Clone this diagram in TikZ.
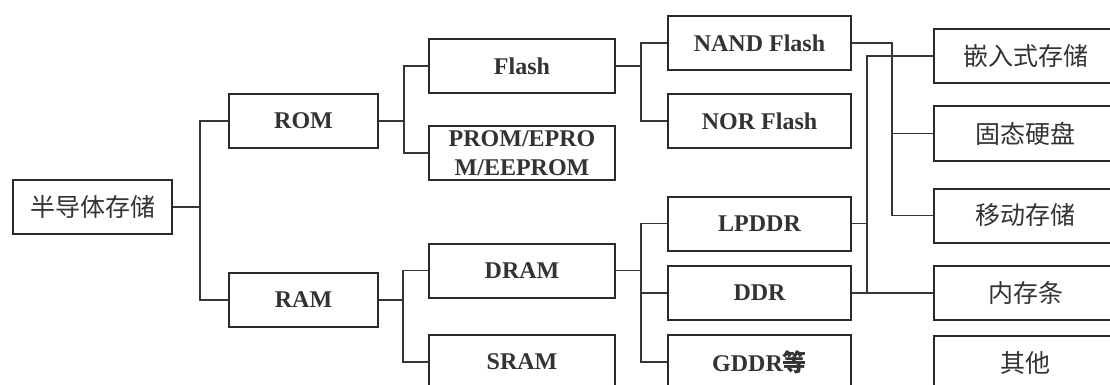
\documentclass[tikz,border=0pt]{standalone}
\usepackage{fontspec}
\setmainfont{Liberation Serif}
\newfontfamily\cjk{Noto Sans CJK SC}
\usetikzlibrary{positioning}
\definecolor{boxline}{HTML}{262B30}
\definecolor{linkline}{HTML}{353535}
\definecolor{boxtext}{HTML}{333333}

\begin{document}
\begin{tikzpicture}[x=1pt,y=-1pt,node distance=22pt,semithick]
  \tikzstyle{box}=[rectangle,draw=boxline,line width=2pt,text=boxtext,
    minimum height=54pt,inner sep=0pt,align=center,
    font=\bfseries\fontsize{24}{29}\selectfont]
  \tikzstyle{cn}=[font=\cjk\fontsize{25}{29}\selectfont]
  \tikzstyle{link}=[draw=linkline,line width=1.6pt]
  \useasboundingbox (0,0) rectangle (1110,385);

  \node[box,cn,minimum width=159pt] (root) at (92.5,207) {半导体存储};
  \node[box,minimum width=149pt] (rom) at (303.5,121) {ROM};
  \node[box,minimum width=149pt] (ram) at (303.5,300) {RAM};
  \node[box,minimum width=186pt] (flash) at (522,66) {Flash};
  \node[box,minimum width=186pt] (prom) at (522,153) {PROM/EPRO\\M/EEPROM};
  \node[box,minimum width=186pt] (dram) at (522,270.5) {DRAM};
  \node[box,minimum width=186pt] (sram) at (522,362) {SRAM};
  \node[box,minimum width=183pt] (nand) at (759.5,43) {NAND Flash};
  \node[box,minimum width=183pt] (nor) [below=of nand] {NOR Flash};
  \node[box,minimum width=183pt] (lpddr) at (759.5,223.5) {LPDDR};
  \node[box,minimum width=183pt] (ddr) at (759.5,293) {DDR};
  \node[box,minimum width=183pt] (gddr) at (759.5,362) {GDDR{\cjk 等}};
  \node[box,cn,minimum width=183pt] (embed) at (1025.5,56) {嵌入式存储};
  \node[box,cn,minimum width=183pt] (ssd) at (1025.5,133.5) {固态硬盘};
  \node[box,cn,minimum width=183pt] (mobile) at (1025.5,215.5) {移动存储};
  \node[box,cn,minimum width=183pt] (dimm) at (1025.5,293) {内存条};
  \node[box,cn,minimum width=183pt] (other) at (1025.5,362.5) {其他};

  \draw[link]
    (root.east) -- ++(27,0) |- (rom.west)
    (root.east) -- ++(27,0) |- (ram.west)
    (rom.east) -- ++(25,0) |- (flash.west)
    (rom.east) -- ++(25,0) |- (prom.west)
    (ram.east) -- ++(24,0) |- (dram.west)
    (ram.east) -- ++(24,0) |- (sram.west)
    (flash.east) -- ++(25,0) |- (nand.west)
    (flash.east) -- ++(25,0) |- (nor.west)
    (dram.east) -- ++(25,0) |- (lpddr.west)
    (dram.east) -- ++(25,0) |- (ddr.west)
    (dram.east) -- ++(25,0) |- (gddr.west)
    (nand.east) -- ++(40,0) |- (ssd.west)
    (nand.east) -- ++(40,0) |- (mobile.west)
    (lpddr.east) -- ++(15,0) |- (embed.west)
    (ddr.east) -- ++(15,0) |- (embed.west)
    (ddr.east) -- (dimm.west);
\end{tikzpicture}
\end{document}
